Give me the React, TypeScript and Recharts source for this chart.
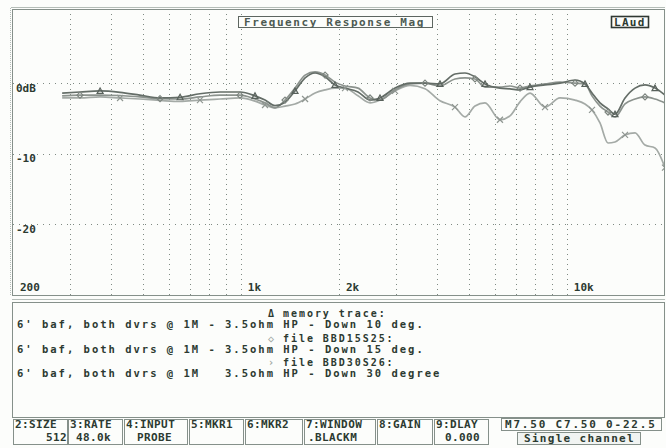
import React from "react";
import { LineChart, Line, XAxis, YAxis, ReferenceLine } from "recharts";

// frequency points (Hz) shared by the three traces
const FREQ = [
  283, 321, 370, 426, 490, 565, 651, 749, 863, 994,
  1105, 1186, 1273, 1366, 1466, 1574, 1689, 1813, 1944, 2087,
  2287, 2490, 2672, 2971, 3303, 3672, 4081, 4537, 4870, 5227,
  5609, 6235, 6691, 7183, 7708, 8569, 9528, 10594, 11365, 11942,
  12636, 13372, 14048, 15081, 16186, 17367, 18636, 20000,
];

// memory trace, down 10 deg
const DOWN10 = [
  -1.3, -1.15, -1.0, -1.2, -1.6, -2.0, -1.9, -1.4, -1.15, -1.15,
  -1.7, -2.3, -3.1, -2.6, -1.0, 0.85, 1.55, 1.0, -0.15, -0.6,
  -1.15, -2.3, -2.0, -0.6, 0.1, 0.1, 0, 1.4, 1.55, 1.0,
  0, -0.6, -0.7, -0.85, -0.45, -0.15, 0.1, 0.55, 0, -1.3,
  -2.7, -3.55, -4.3, -2.0, -0.6, -0.15, -0.6, -1.6,
];

// file BBD15S25, down 15 deg
const DOWN15 = [
  -1.7, -1.6, -1.6, -1.65, -1.85, -2.1, -2.15, -1.85, -1.6, -1.6,
  -2.15, -2.7, -3.4, -2.3, -0.6, 1.25, 1.7, 1.25, 0.25, -0.3,
  -0.6, -2.0, -2.3, -0.85, 0, 0.1, -0.3, 0.7, 0.85, 0.7,
  -0.45, -0.45, -0.3, -0.6, -0.3, 0, 0.25, 0.1, 0, -1.7,
  -3.15, -4.0, -4.7, -2.85, -2.15, -1.85, -2.15, -2.7,
];

// file BBD30S26, down 30 degree
const DOWN30 = [
  -2.0, -2.0, -1.85, -2.0, -2.15, -2.35, -2.5, -2.3, -2.15, -2.0,
  -2.45, -3.0, -3.4, -3.15, -2.85, -2.15, -1.3, -0.85, -0.6, -0.6,
  -1.7, -2.7, -2.3, -1.0, -0.2, -0.7, -2.4, -3.3, -4.7, -3.15,
  -2.7, -5.1, -4.55, -2.55, -1.3, -3.3, -2.0, -2.3, -2.85, -3.7,
  -5.55, -8.4, -8.25, -7.25, -6.95, -8.7, -9.1, -11.9,
];

const GRID_FREQ = [300, 400, 500, 600, 700, 800, 900, 1000, 2000, 3000, 4000, 5000, 6000, 7000, 8000, 9000, 10000];
const FREQ_LABELS: Record<number, string> = { 200: "200", 1000: "1k", 2000: "2k", 10000: "10k" };
const DB_TICKS = [0, -10, -20];
const DB_LABELS: Record<number, string> = { 0: "0dB", "-10": "-10", "-20": "-20" };

const LEGEND_MARKS = ["\u0394", "\u25C7", "\u203A"];
const LEGEND_HEADS = ["memory trace:", "file BBD15S25:", "file BBD30S26:"];
const LEGEND_LINES = [
  "6' baf, both dvrs @ 1M - 3.5ohm HP - Down 10 deg.",
  "6' baf, both dvrs @ 1M - 3.5ohm HP - Down 15 deg.",
  "6' baf, both dvrs @ 1M   3.5ohm HP - Down 30 degree",
];

const KEYS = ["2:SIZE", "3:RATE", "4:INPUT", "5:MKR1", "6:MKR2", "7:WINDOW", "8:GAIN", "9:DLAY"];
const KEY_VALUES = ["512", "48.0k", "PROBE", "", "", ".BLACKM", "", "0.000"];

const rows = FREQ.map((f, i) => ({ f, a: DOWN10[i], b: DOWN15[i], c: DOWN30[i] }));

const INK = "#2c3a31";
const FONT = "'DejaVu Sans Mono', monospace";
const BOX = "#85908a";
const GRID = "#7f8a83";

// button boxes and value x positions on the page
const KEY_BOX = [[13, 67], [68, 122], [124, 187], [189, 243], [245, 302], [304, 375], [377, 432], [434, 488]];
const VALUE_X = [46, 76, 137, 0, 0, 308, 0, 445];

function FreqLabel(p: any) {
  const vb = p.viewBox || {};
  if (!p.text) return null;
  return (
    <text x={vb.x + 7} y={vb.y + vb.height - 4} fill={INK} fontFamily={FONT} fontWeight="bold" fontSize={11}>
      {p.text}
    </text>
  );
}

function DbLabel(p: any) {
  const vb = p.viewBox || {};
  return (
    <text x={vb.x + 3} y={vb.y + 8} fill={INK} fontFamily={FONT} fontWeight="bold" fontSize={11}>
      {p.text}
    </text>
  );
}

// vertical dotted grid line drawn through the reference line's own end points
function VDots(p: any) {
  const x = Math.round(p.x1) + 0.5;
  return <line x1={x} y1={p.y1} x2={x} y2={p.y2} stroke={GRID} strokeWidth={1} strokeDasharray="1 4" />;
}

function makeDot(kind: string, color: string, offset: number) {
  return (p: any) => {
    const { cx, cy, index } = p;
    const key = `${kind}${index}`;
    if (cx == null || cy == null || (index + offset) % 4 !== 0) return <g key={key} />;
    if (kind === "tri")
      return <path key={key} d={`M${cx},${cy - 3}L${cx + 3},${cy + 2.5}L${cx - 3},${cy + 2.5}Z`} fill="none" stroke={color} strokeWidth={1.2} />;
    if (kind === "dia")
      return <path key={key} d={`M${cx},${cy - 3}L${cx + 3},${cy}L${cx},${cy + 3}L${cx - 3},${cy}Z`} fill="none" stroke={color} strokeWidth={1.2} />;
    return <path key={key} d={`M${cx - 3},${cy - 3}L${cx + 3},${cy + 3}M${cx + 3},${cy - 3}L${cx - 3},${cy + 3}`} stroke={color} strokeWidth={1.2} />;
  };
}

export default function App() {
  const txt = { fill: INK, fontFamily: FONT, fontWeight: "bold" as const };
  return (
    <div style={{ position: "relative", width: 666, height: 448, background: "#fcfdfb", overflow: "hidden" }}>
      <style>{`body{margin:0}`}</style>
      <div style={{ position: "absolute", left: 13, top: 10 }}>
        <LineChart width={652} height={285} data={rows} margin={{ top: 0, right: 0, bottom: 0, left: 0 }}>
          <XAxis dataKey="f" type="number" scale="log" domain={[200, 20000]} allowDataOverflow hide />
          <YAxis type="number" domain={[-30, 10.5]} allowDataOverflow hide />
          {GRID_FREQ.map((f) => (
            <ReferenceLine
              key={`v${f}`}
              x={f}
              stroke={GRID}
              shape={<VDots />}
              label={<FreqLabel text={FREQ_LABELS[f]} />}
            />
          ))}
          <ReferenceLine x={200} stroke="none" label={<FreqLabel text={FREQ_LABELS[200]} />} />
          {DB_TICKS.map((d) => (
            <ReferenceLine
              key={`h${d}`}
              y={d}
              stroke={GRID}
              strokeDasharray="1 5"
              shapeRendering="crispEdges"
              label={<DbLabel text={DB_LABELS[d]} />}
            />
          ))}
          <Line dataKey="c" type="monotone" stroke="#a4aaa6" strokeWidth={1.7} dot={makeDot("x", "#8f9691", 1)} isAnimationActive={false} />
          <Line dataKey="b" type="monotone" stroke="#8c938e" strokeWidth={1.7} dot={makeDot("dia", "#7d857f", 3)} isAnimationActive={false} />
          <Line dataKey="a" type="monotone" stroke="#646d67" strokeWidth={1.7} dot={makeDot("tri", "#58615b", 2)} isAnimationActive={false} />
        </LineChart>
      </div>

      <svg width={666} height={448} style={{ position: "absolute", left: 0, top: 0, pointerEvents: "none" }}>
        {/* plot frame */}
        <rect x={12.5} y={9.5} width={652} height={286} fill="none" stroke={BOX} />
        <line x1={11} y1={7.5} x2={665} y2={7.5} stroke="#b5bdb8" />
        <line x1={10.5} y1={8} x2={10.5} y2={296} stroke="#b5bdb8" strokeDasharray="1 1" />

        {/* title */}
        <rect x={238.5} y={16.5} width={194} height={11} fill="#fcfdfb" stroke="#5d6660" />
        <text x={244} y={26} {...txt} fill="#4d5a52" fontSize={11} style={{ letterSpacing: 1.6 }}>
          Frequency Response Mag
        </text>
        <rect x={611.5} y={16.5} width={37} height={11} fill="#fcfdfb" stroke="#2f3832" strokeWidth={1.6} />
        <text x={614} y={26} {...txt} fontSize={11} style={{ letterSpacing: 1.3 }}>
          LAud
        </text>

        {/* legend panel */}
        <line x1={12} y1={299.5} x2={665} y2={299.5} stroke="#b5bdb8" />
        <rect x={12.5} y={302.5} width={652} height={115} fill="none" stroke={BOX} />
        {LEGEND_HEADS.map((h, i) => (
          <g key={h}>
            <text x={268} y={317 + i * 24.5} {...txt} fill={i === 0 ? INK : "#a3aaa5"} fontSize={10}>
              {LEGEND_MARKS[i]}
            </text>
            <text x={283} y={317 + i * 24.5} {...txt} fontSize={10} style={{ letterSpacing: 1.95 }}>
              {h}
            </text>
          </g>
        ))}
        {LEGEND_LINES.map((l, i) => (
          <text key={l} x={17} y={328 + i * 24.5} {...txt} fontSize={10.5} xmlSpace="preserve" style={{ letterSpacing: 2, whiteSpace: "pre" }}>
            {l}
          </text>
        ))}

        {/* function keys */}
        {KEYS.map((k, i) => (
          <g key={k}>
            <rect x={KEY_BOX[i][0] + 0.5} y={419.5} width={KEY_BOX[i][1] - KEY_BOX[i][0]} height={25} fill="none" stroke={BOX} />
            <text x={KEY_BOX[i][0] + 2} y={428} {...txt} fontSize={11} style={{ letterSpacing: 0.4 }}>
              {k}
            </text>
            {KEY_VALUES[i] && (
              <text x={VALUE_X[i]} y={441} {...txt} fontSize={11} style={{ letterSpacing: 0.4 }}>
                {KEY_VALUES[i]}
              </text>
            )}
          </g>
        ))}
        <rect x={501.5} y={418.5} width={160} height={12} fill="none" stroke={BOX} />
        <text x={505} y={428} {...txt} fontSize={11} style={{ letterSpacing: 1.8 }}>
          M7.50 C7.50 0-22.5
        </text>
        <rect x={517.5} y={432.5} width={123} height={12} fill="#f1f4f2" stroke={BOX} />
        <text x={524} y={442} {...txt} fontSize={11} xmlSpace="preserve" style={{ letterSpacing: 1.3, whiteSpace: "pre" }}>
          Single channel
        </text>
      </svg>
    </div>
  );
}
